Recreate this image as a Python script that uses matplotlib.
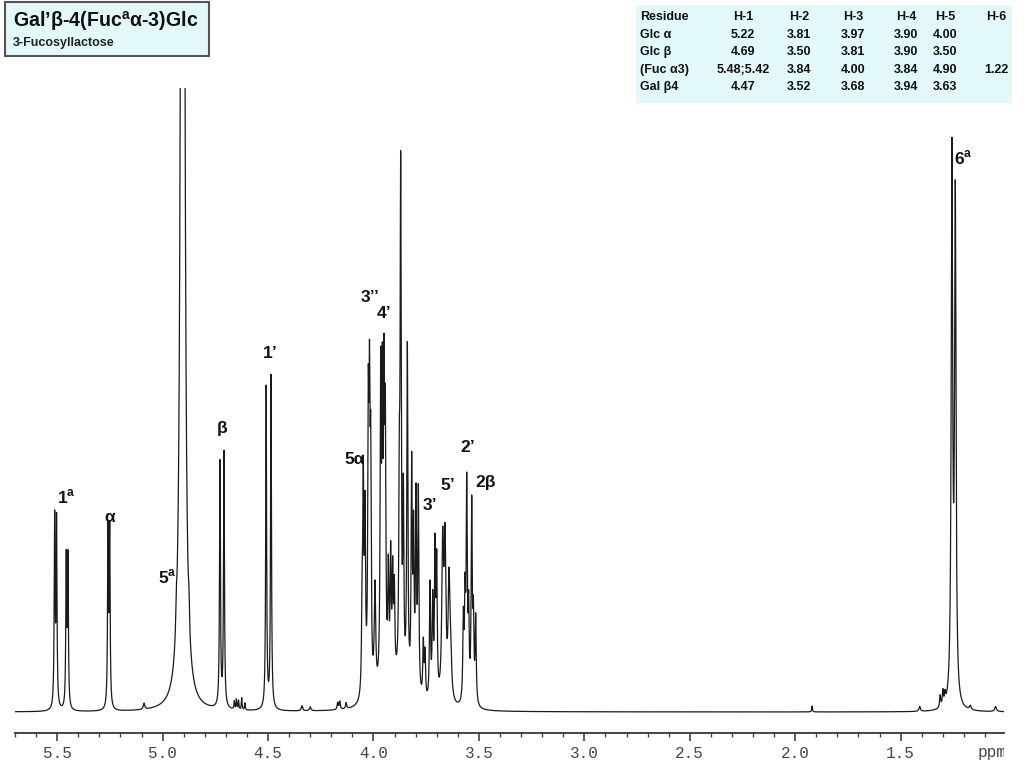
import numpy as np
import matplotlib
matplotlib.use("Agg")
import matplotlib.pyplot as plt
from matplotlib.patches import Rectangle
from matplotlib.transforms import Bbox, blended_transform_factory
from matplotlib.ticker import MultipleLocator, FixedLocator

plt.rcParams['font.family'] = ['Liberation Sans', 'DejaVu Sans']
plt.rcParams['mathtext.fontset'] = 'custom'
plt.rcParams['mathtext.bf'] = 'Liberation Sans:bold'
plt.rcParams['mathtext.rm'] = 'Liberation Sans:bold'

# ---------------- data: resolved lines of the 1H spectrum -----------------
# chemical shift (ppm), peak height (arb.), half width at half height (ppm)
line_ppm = [
    5.512, 5.503, 5.457, 5.449,              # Fuc H-1 (1a)
    5.259, 5.251,                            # Glc alpha H-1
    5.088,
    4.910, 4.900, 4.935, 4.875,              # HDO + Fuc H-5 (5a)
    4.728, 4.709,                            # Glc beta H-1
    4.660, 4.650, 4.640, 4.625, 4.610,
    4.509, 4.486,                            # Gal H-1 (1')
    4.339, 4.300, 4.170, 4.160, 4.130,
    4.054, 4.0484, 4.0403,                   # 5 alpha
    4.0247, 4.0190, 4.0133,                  # 3''
    3.9929,
    3.9660, 3.9581, 3.9502, 3.9439,          # 4'
    3.9297, 3.9186, 3.9091, 3.9012,
    3.8775, 3.8711, 3.8585, 3.8395, 3.8190, 3.8100, 3.7984, 3.7874,
    3.7637, 3.7557,
    3.7320, 3.7193, 3.7083, 3.7003,          # 3'
    3.6719, 3.6608, 3.6419, 3.6350,          # 5'
    3.5738, 3.5659, 3.5580, 3.5490,          # 2'
    3.5343, 3.5264, 3.5154,                  # 2 beta
    3.900,                                   # broad envelope of the ring protons
    1.920, 1.410,
    1.313, 1.300, 1.290,
    1.257, 1.241,                            # Fuc H-6 (6a)
    1.170, 1.050,
]
line_height = [
    188, 185, 148, 148,
    175, 175,
    6,
    900, 900, 25, 25,
    245, 255,
    8, 10, 9, 12, 7,
    322, 333,
    5, 4, 7, 8, 6,
    80, 205, 170,
    258, 255, 210,
    105,
    300, 270, 270, 235,
    105, 120, 100, 85,
    170, 495, 180, 340, 220, 150, 190, 200,
    55, 45,
    115, 95, 145, 130,
    150, 150, 110, 40,
    80, 95, 210, 85,
    195, 80, 85,
    20,
    6, 5,
    12, 15, 10,
    545, 500,
    4, 5,
]
line_width = [
    0.0025, 0.0025, 0.0025, 0.0025,
    0.0025, 0.0025,
    0.004,
    0.007, 0.007, 0.003, 0.003,
    0.0025, 0.0025,
    0.002, 0.002, 0.002, 0.002, 0.002,
    0.0025, 0.0025,
    0.004, 0.004, 0.003, 0.003, 0.003,
    0.003, 0.003, 0.003,
    0.003, 0.003, 0.003,
    0.004,
    0.003, 0.003, 0.003, 0.003,
    0.003, 0.003, 0.003, 0.003,
    0.003, 0.003, 0.003, 0.003, 0.003, 0.003, 0.003, 0.003,
    0.003, 0.003,
    0.003, 0.003, 0.003, 0.003,
    0.005, 0.005, 0.005, 0.006,
    0.003, 0.003, 0.003, 0.003,
    0.003, 0.003, 0.003,
    0.06,
    0.002, 0.004,
    0.003, 0.003, 0.003,
    0.004, 0.004,
    0.005, 0.005,
]

# peak annotations: text, ppm, height
label_text = [r"1$^{\mathbf{a}}$", "α", r"5$^{\mathbf{a}}$", "β", "1’", "5α", "3’’", "4’",
              "3’", "5’", "2’", "2β", r"6$^{\mathbf{a}}$"]
label_ppm = [5.456, 5.251, 4.98, 4.718, 4.490, 4.088, 4.017, 3.949,
             3.732, 3.646, 3.551, 3.466, 1.205]
label_height = [215, 195, 135, 284, 358, 252, 414, 398,
                207, 226, 264, 230, 554]

# assignment table
table_cols = ["Residue", "H-1", "H-2", "H-3", "H-4", "H-5", "H-6"]
table_rows = [
    ["Glc α", "5.22", "3.81", "3.97", "3.90", "4.00", ""],
    ["Glc β", "4.69", "3.50", "3.81", "3.90", "3.50", ""],
    ["(Fuc α3)", "5.48;5.42", "3.84", "4.00", "3.84", "4.90", "1.22"],
    ["Gal β4", "4.47", "3.52", "3.68", "3.94", "3.63", ""],
]

major_ticks = [5.5, 5.0, 4.5, 4.0, 3.5, 3.0, 2.5, 2.0, 1.5]

# ---------------- figure -----------------
W, H = 1024, 768
fig = plt.figure(figsize=(W / 100, H / 100), dpi=100)
fig.patch.set_facecolor('white')

def fx(px):
    return px / W

def fy(py):
    return 1 - py / H

ax = fig.add_axes([fx(15), fy(733), fx(1004) - fx(15), fy(88) - fy(733)])

ppm = np.linspace(5.70, 1.0, 40000)
spec = np.zeros_like(ppm)
for c, h, g in zip(line_ppm, line_height, line_width):
    spec += h / (1.0 + ((ppm - c) / g) ** 2)

ax.plot(ppm, spec, color='#1a1a1a', lw=0.9)
ax.set_xlim(5.70, 1.01)
ax.set_ylim(-21, 624)

for s in ['top', 'left', 'right']:
    ax.spines[s].set_visible(False)
ax.spines['bottom'].set_color('#444444')
ax.spines['bottom'].set_linewidth(1.4)
ax.set_yticks([])
ax.xaxis.set_major_locator(FixedLocator(major_ticks))
ax.xaxis.set_minor_locator(MultipleLocator(0.1))
ax.tick_params(axis='x', which='major', length=6, width=1.2, color='#444444',
               labelsize=11.5, labelcolor='#444444', pad=3)
ax.tick_params(axis='x', which='minor', length=3, width=1.0, color='#444444')
ax.set_xticklabels([f"{t:.1f}" for t in major_ticks], family='Liberation Mono')

tr = blended_transform_factory(ax.transData, fig.transFigure)
t = ax.text(1.137, fy(752), "ppm", transform=tr, ha='left', va='center',
            family='Liberation Mono', fontsize=11.5, color='#444444')
t.set_clip_on(True)
t.set_clip_box(Bbox.from_extents(0, 0, 1004, H))

# peak labels
for txt, x, y in zip(label_text, label_ppm, label_height):
    ax.text(x, y, txt, ha='center', va='center', fontsize=12.5,
            fontweight='bold', color='#111111', clip_on=False)

# title box
fig.patches.append(Rectangle((fx(5), fy(56)), fx(204), 54 / H, transform=fig.transFigure,
                             facecolor='#E3F8FB', edgecolor='#555555', lw=1.5))
fig.text(fx(13), fy(21), r"Gal’β-4(Fuc$^{\mathbf{a}}$α-3)Glc", fontsize=14.1,
         fontweight='bold', ha='left', va='center', color='#111111')
fig.text(fx(13), fy(43), "3-Fucosyllactose", fontsize=9.0, fontweight='bold',
         ha='left', va='center', color='#222222')

# assignment table
fig.patches.append(Rectangle((fx(636), fy(103)), fx(376), 98 / H, transform=fig.transFigure,
                             facecolor='#E3F8FB', edgecolor='none'))
col_x = [640, 743, 799, 853, 906, 945, 996]
row_y = [17, 35, 52, 70, 87]
for j, name in enumerate(table_cols):
    fig.text(fx(col_x[j]), fy(row_y[0]), name, fontsize=9.0, fontweight='bold',
             ha='left' if j == 0 else 'center', va='center', color='#111111')
for i, row in enumerate(table_rows):
    for j, val in enumerate(row):
        fig.text(fx(col_x[j]), fy(row_y[i + 1]), val, fontsize=9.0, fontweight='bold',
                 ha='left' if j == 0 else 'center', va='center', color='#111111')

fig.savefig("out.png", dpi=100)
